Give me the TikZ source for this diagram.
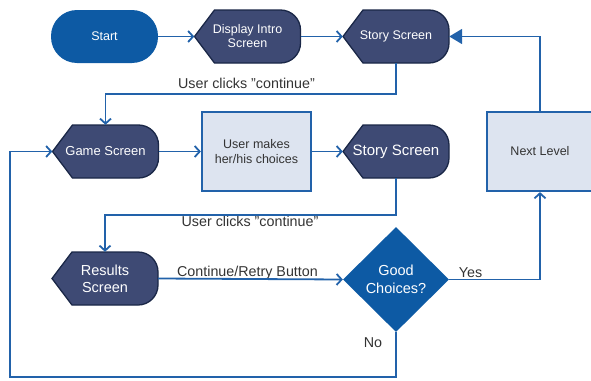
\documentclass[tikz,border=0pt]{standalone}
\usepackage{fontspec}
\setmainfont{Liberation Sans}
\usetikzlibrary{arrows.meta,shapes.geometric}
\definecolor{startblue}{HTML}{0D5AA4}
\definecolor{dispfill}{HTML}{3E4A74}
\definecolor{dispdraw}{HTML}{1A2747}
\definecolor{linecol}{HTML}{2262AA}
\definecolor{boxfill}{HTML}{DDE4F0}
\definecolor{txtgray}{HTML}{333333}
\newcommand\dispshape[2]{%
  \filldraw[dispshp] (#1-53,#2) -- (#1-33,#2-26.5) -- (#1+33,#2-26.5)
    arc[start angle=90,end angle=0,radius=20pt] -- (#1+53,#2+6.5)
    arc[start angle=0,end angle=-90,radius=20pt] -- (#1-33,#2+26.5) -- cycle;}
\tikzset{
  dispshp/.style={fill=dispfill,draw=dispdraw,line width=1.3pt},
  disptext/.style={minimum width=106pt,minimum height=53pt,inner sep=0pt,text=white,align=center,font=\fontsize{12.5}{15}\selectfont},
  startnode/.style={rectangle,rounded corners=26pt,fill=startblue,minimum width=107pt,minimum height=53pt,inner sep=0pt,text=white,font=\fontsize{12.5}{15}\selectfont},
  lightbox/.style={rectangle,fill=boxfill,draw=linecol,line width=2.2pt,inner sep=0pt,text=txtgray,align=center,font=\fontsize{12.5}{15}\selectfont},
  decision/.style={diamond,fill=startblue,minimum width=106pt,minimum height=105pt,inner sep=0pt,text=white,align=center,font=\fontsize{14.5}{18}\selectfont},
  conn/.style={draw=linecol,line width=1.8pt,-{Straight Barb[length=5pt,width=11pt,line width=1.8pt]}},
  connfill/.style={draw=linecol,line width=1.8pt,-{Triangle[length=13pt,width=15pt]}},
  lbl/.style={text=txtgray,font=\fontsize{14.3}{16}\selectfont,inner sep=0pt}
}
\begin{document}
\begin{tikzpicture}[x=1pt,y=-1pt]
\useasboundingbox (0,0) rectangle (591,380);
% shapes
\dispshape{247.5}{36.5}
\dispshape{396}{36.5}
\dispshape{105.5}{151.5}
\dispshape{396}{151.5}
\dispshape{105}{278.5}
% nodes
\node[startnode] (start) at (104.5,36.5) {Start};
\node[disptext] (intro) at (247.5,36.5) {Display Intro\\[-1pt]Screen};
\node[disptext] (story1) at (396,36.5) {Story Screen};
\node[disptext,font=\fontsize{13}{15}\selectfont] (game) at (105.5,151.5) {Game Screen};
\node[lightbox,minimum width=109pt,minimum height=79pt] (choice) at (256.5,151.5) {User makes\\her/his choices};
\node[disptext,font=\fontsize{15}{17}\selectfont] (story2) at (396,151.5) {Story Screen};
\node[lightbox,minimum width=106pt,minimum height=79pt] (next) at (540,151.5) {Next Level};
\node[disptext,font=\fontsize{14.5}{17}\selectfont] (results) at (105,278.5) {Results\\Screen};
\node[decision] (good) at (396,279.5) {Good\\Choices?};
\coordinate (c2) at (10,377);
% labels
\node[lbl] (l1) at (246.5,83) {User clicks "continue"};
\node[lbl] (l2) at (250,221) {User clicks "continue"};
\node[lbl] (l3) at (247.5,273) {Continue/Retry Button};
\node[lbl] (l4) at (470.5,273) {Yes};
\node[lbl] (l5) at (373,343) {No};
% connectors
\draw[conn] (start.east) -- (intro.west);
\draw[conn] (intro.east) -- (story1.west);
\draw[conn] (story1.south) -- ++(0,31) -| (game.north);
\draw[conn] (game.east) -- (choice.west);
\draw[conn] (choice.east) -- (story2.west);
\draw[conn] (story2.south) -- ++(0,37) -| (results.north);
\draw[conn] (results.east) -- (good.west);
\draw[conn] (good.east) -| (next.south);
\draw[connfill] (next.north) |- (story1.east);
\draw[conn] (good.south) |- (c2) |- (game.west);
\end{tikzpicture}
\end{document}
